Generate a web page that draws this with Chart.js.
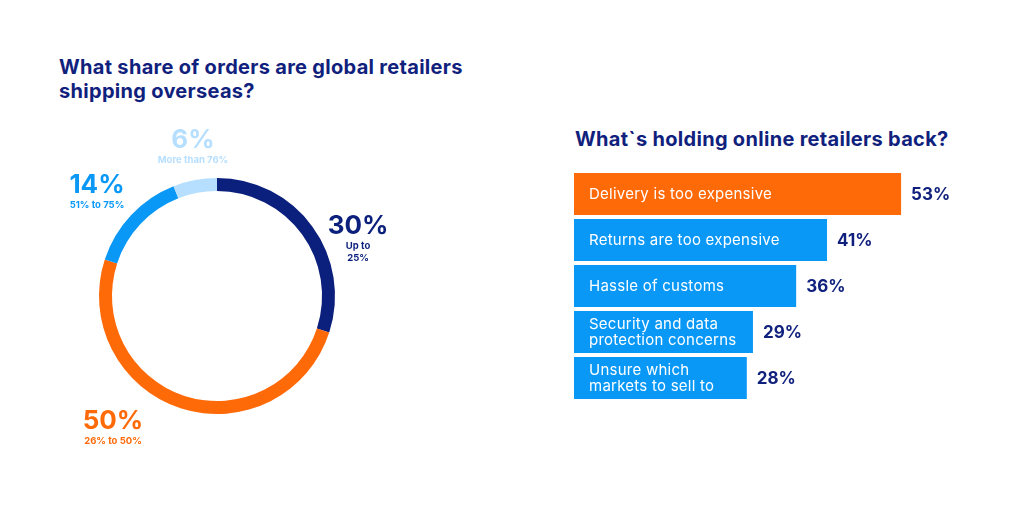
<!DOCTYPE html>
<html>
<head>
<meta charset="utf-8">
<script src="https://cdn.jsdelivr.net/npm/chart.js@4.4.1/dist/chart.umd.min.js"></script>
<style>
  html, body { margin: 0; padding: 0; background: #fff; }
  body { width: 1024px; height: 519px; position: relative; overflow: hidden; font-family: Inter, sans-serif; }
  .title { position: absolute; color: #10217d; font-weight: 700; font-size: 20px; line-height: 24px; letter-spacing: 0.3px; }
  #leftTitle { left: 59px; top: 55px; }
  #rightTitle { left: 575px; top: 127px; }
  #donutWrap { position: absolute; left: 0; top: 0; width: 480px; height: 519px; }
  #barWrap { position: absolute; left: 560px; top: 150px; width: 464px; height: 270px; }
</style>
</head>
<body>
<div class="title" id="leftTitle">What share of orders are global retailers<br>shipping overseas?</div>
<div class="title" id="rightTitle">What`s holding online retailers back?</div>
<div id="donutWrap"><canvas id="donutChart"></canvas></div>
<div id="barWrap"><canvas id="barChart"></canvas></div>
<script>
/* share of orders shipped overseas */
const shareValues = [30, 50, 14, 6];
const shareBig = ['30%', '50%', '14%', '6%'];
const shareSub = [['Up to', '25%'], ['26% to 50%'], ['51% to 75%'], ['More than 76%']];
const shareColors = ['#0b1f7c', '#ff6a09', '#0a98f7', '#b6dfff'];

/* what holds retailers back */
const reasonLabels = [
  ['Delivery is too expensive'],
  ['Returns are too expensive'],
  ['Hassle of customs'],
  ['Security and data', 'protection concerns'],
  ['Unsure which', 'markets to sell to']
];
const reasonValues = [53, 41, 36, 29, 28];
const reasonColors = ['#ff6a09', '#0a98f7', '#0a98f7', '#0a98f7', '#0a98f7'];

const NAVY = '#10217d';

// label anchor spots for the donut (canvas coords)
const shareLabelPos = [
  { x: 358, y: 234 },
  { x: 113, y: 429 },
  { x: 97,  y: 193 },
  { x: 193, y: 148 }
];

const donutLabels = {
  id: 'donutLabels',
  afterDraw(chart) {
    const { ctx } = chart;
    ctx.save();
    ctx.textAlign = 'center';
    shareBig.forEach((txt, i) => {
      const p = shareLabelPos[i];
      ctx.fillStyle = shareColors[i];
      ctx.textBaseline = 'alphabetic';
      ctx.font = '700 26px Inter';
      ctx.fillText(txt, p.x, p.y);
      ctx.font = '700 9.5px Inter';
      ctx.textBaseline = 'middle';
      shareSub[i].forEach((s, j) => {
        ctx.fillText(s, p.x, p.y + 12 + j * 12);
      });
    });
    ctx.restore();
  }
};

new Chart(document.getElementById('donutChart'), {
  type: 'doughnut',
  data: {
    labels: shareBig,
    datasets: [{
      data: shareValues,
      backgroundColor: shareColors,
      borderWidth: 0
    }]
  },
  options: {
    responsive: true,
    maintainAspectRatio: false,
    animation: false,
    cutout: '89%',
    layout: { padding: { left: 99, top: 178, right: 145, bottom: 105 } },
    plugins: { legend: { display: false }, tooltip: { enabled: false } }
  },
  plugins: [donutLabels]
});

// ─── Bar labels (inside + value) ────────────────────────────
const barText = {
  id: 'barText',
  afterDatasetsDraw(chart) {
    const { ctx } = chart;
    const meta = chart.getDatasetMeta(0);
    ctx.save();
    meta.data.forEach((bar, i) => {
      const lines = reasonLabels[i];
      ctx.fillStyle = '#ffffff';
      ctx.font = '400 15px Inter';
      ctx.letterSpacing = '0.25px';
      ctx.textAlign = 'left';
      ctx.textBaseline = 'middle';
      const start = bar.base + 15;
      lines.forEach((l, j) => {
        ctx.fillText(l, start, bar.y + (j - (lines.length - 1) / 2) * 16);
      });
      ctx.fillStyle = NAVY;
      ctx.font = '700 17px Inter';
      ctx.letterSpacing = '0px';
      ctx.fillText(reasonValues[i] + '%', bar.x + 10, bar.y + 1);
    });
    ctx.restore();
  }
};

new Chart(document.getElementById('barChart'), {
  type: 'bar',
  data: {
    labels: reasonLabels.map(l => l.join(' ')),
    datasets: [{
      data: reasonValues,
      backgroundColor: reasonColors,
      borderWidth: 0,
      barPercentage: 0.91,
      categoryPercentage: 1
    }]
  },
  options: {
    indexAxis: 'y',
    responsive: true,
    maintainAspectRatio: false,
    animation: false,
    layout: { padding: { left: 14, top: 21, right: 18, bottom: 19 } },
    scales: {
      x: { display: false, min: 0, max: 70 },
      y: { display: false }
    },
    plugins: { legend: { display: false }, tooltip: { enabled: false } }
  },
  plugins: [barText]
});
</script>
</body>
</html>
